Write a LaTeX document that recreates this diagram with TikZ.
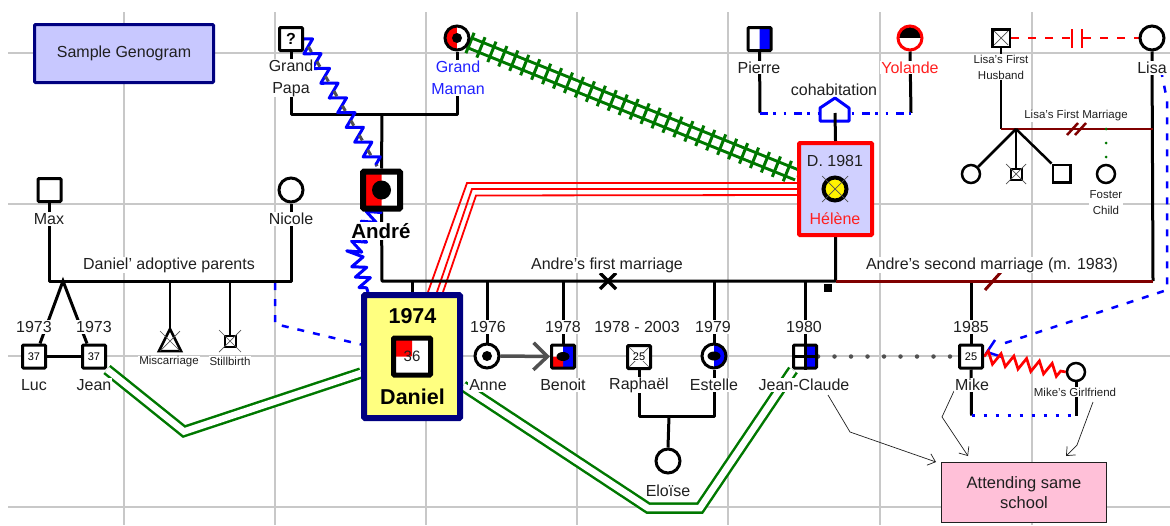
\documentclass[tikz,border=0pt]{standalone}
\usepackage{fontspec}
\setmainfont{Liberation Sans}
\usetikzlibrary{arrows.meta,decorations.pathmorphing,decorations.pathreplacing,shapes.geometric,calc}
\pgfdeclarelayer{bg}
\pgfsetlayers{bg,main}
\definecolor{ink}{HTML}{202020}
\definecolor{navybox}{HTML}{000080}
\definecolor{lavbox}{HTML}{C8C8FF}
\definecolor{lavred}{HTML}{D0D0FF}
\definecolor{yelbox}{HTML}{FFFF80}
\definecolor{pinkbox}{HTML}{FFC0D8}
\definecolor{gridc}{HTML}{C8C8C8}
\definecolor{gr}{HTML}{007800}
\definecolor{maroon}{HTML}{800000}
\definecolor{greyl}{HTML}{505050}
\definecolor{lblue}{HTML}{2020FF}
\definecolor{lred}{HTML}{FF2020}
\newcommand{\fsN}{\fontsize{16}{22}\selectfont}
\newcommand{\fsS}{\fontsize{11.5}{16}\selectfont}
\newcommand{\fsB}{\fontsize{21.5}{24}\selectfont\bfseries}
\newcommand{\deadx}[3][gray]{\draw[line width=.7pt,#1] ([shift={(-#3pt,-#3pt)}]#2.center) -- ([shift={(#3pt,#3pt)}]#2.center) ([shift={(-#3pt,#3pt)}]#2.center) -- ([shift={(#3pt,-#3pt)}]#2.center);}
\tikzset{
  lab/.style={fill=white,inner sep=1pt,font=\fsN,text=ink,align=center},
  slab/.style={lab,font=\fsS},
  sq/.style={draw=black,fill=white,line width=3pt,rounded corners=1pt,minimum size=23pt,inner sep=0pt,font=\fontsize{11}{12}\selectfont},
  circ/.style={circle,draw=black,fill=white,line width=3pt,minimum size=24pt,inner sep=0pt},
  scirc/.style={circle,draw=black,fill=white,line width=2.5pt,minimum size=18pt,inner sep=0pt},
  ssq/.style={draw=black,fill=white,line width=2.5pt,minimum size=17.5pt,inner sep=0pt},
  rel/.style={draw=black,line width=3pt},
  relthin/.style={draw=black,line width=2.5pt},
  wine/.style={draw=maroon,line width=2.5pt},
  greendouble/.style={draw=gr,line width=2.5pt,double=white,double distance=6.5pt},
  redline/.style={draw=red,line width=1.8pt},
  bluedash/.style={draw=blue,line width=2.5pt,dash pattern=on 7pt off 9pt},
  note/.style={draw=ink,line width=.7pt,-{Straight Barb[length=7pt,width=12pt]}},
  halfblue/.style={path picture={\fill[blue] (path picture bounding box.north) rectangle (path picture bounding box.south east);}},
  halfredL/.style={path picture={\fill[red] (path picture bounding box.north) rectangle (path picture bounding box.south west);}},
  tophalf/.style={path picture={\fill[black] (path picture bounding box.west) rectangle (path picture bounding box.north east);}}
}
\begin{document}
\begin{tikzpicture}[x=1pt,y=-1pt]
\useasboundingbox (0,0) rectangle (1170,525);
% -------- background grid
\begin{pgfonlayer}{bg}
\fill[white] (0,0) rectangle (1170,525);
\foreach \gx in {124,275,426,577,728,880,1032} \draw[gridc,line width=1.2pt] (\gx,12) -- (\gx,525);
\foreach \gy in {53,204,356,507} \draw[gridc,line width=1.2pt] (8,\gy) -- (1170,\gy);
\end{pgfonlayer}

% -------- boxes
\node[draw=navybox,fill=lavbox,line width=3pt,rounded corners=1pt,minimum width=179pt,minimum height=58pt,font=\fsN,text=ink] (title) at (124,53.5) {Sample Genogram};
\node[draw=navybox,fill=yelbox,line width=6pt,rounded corners=1pt,minimum width=96pt,minimum height=123pt] (danbox) at (412,356.5) {};
\node[draw=red,fill=lavred,line width=4pt,rounded corners=1pt,minimum width=73pt,minimum height=92pt] (helbox) at (835.5,189) {};
\node[draw=ink,fill=pinkbox,line width=1pt,minimum width=165pt,minimum height=60pt,align=center,text=ink,font=\fontsize{16.5}{20}\selectfont] (school) at (1024,492.5) {Attending same\\school};

% -------- house (cohabitation)
\coordinate (house) at (835,113);
\draw[draw=blue,fill=white,line width=3pt,line join=round] (820,121) -- (820,108) -- (835,98) -- (849,108) -- (849,121) -- cycle;

% -------- persons
\node[sq,font=\fontsize{16}{18}\selectfont\bfseries] (papa) at (291,39) {?};
\node[circ,halfredL] (maman) at (457,38) {};
\fill (maman.center) circle (5);
\node[sq,halfblue] (pierre) at (759.5,39) {};
\node[circ,draw=red,tophalf] (yolande) at (910,38) {};
\node[ssq] (husband) at (1001,38) {};
\deadx[greyl]{husband}{7}
\node[circ] (lisa) at (1152,38) {};
\node[sq] (max) at (49.5,190) {};
\node[circ] (nicole) at (291,190) {};
\node[draw=black,fill=white,line width=6pt,rounded corners=1pt,minimum size=37pt,inner sep=0pt,path picture={\fill[red] (path picture bounding box.north) rectangle (path picture bounding box.south west);}] (andre) at (381.5,190) {};
\fill (andre.center) circle (9.5);
\node[circ,fill=yellow,line width=4pt,minimum size=23pt] (helene) at (835,189) {};
\deadx[greyl]{helene}{13}
\node[sq] (luc) at (34,356.5) {37};
\node[sq] (jean) at (94,356.5) {37};
\draw[draw=black,fill=white,line width=2.5pt,line join=miter] (170,329) -- (181,351) -- (159,351) -- cycle;
\coordinate (misc) at (170,329);
\deadx[greyl]{misc}{0}
\draw[line width=.7pt,greyl] (160,331) -- (180,351) (180,331) -- (160,351);
\node[draw=black,fill=white,line width=2pt,minimum size=11pt,inner sep=0pt] (still) at (230,341) {};
\deadx[greyl]{still}{11}
\node[circ] (anne) at (487,356) {};
\fill (anne.center) circle (5);
\node[sq,path picture={\fill[blue] (path picture bounding box.north) rectangle (path picture bounding box.south east);\fill[red] (path picture bounding box.center) rectangle (path picture bounding box.south west);}] (benoit) at (563,356.5) {};
\fill (benoit.center) ellipse (6.5 and 4.5);
\node[sq] (raphael) at (639,357) {};
\draw[line width=.7pt,greyl] ([shift={(-10pt,-10pt)}]raphael.center) -- ([shift={(10pt,10pt)}]raphael.center) ([shift={(-10pt,10pt)}]raphael.center) -- ([shift={(10pt,-10pt)}]raphael.center);
\node[font=\fontsize{11}{12}\selectfont,fill=white,inner sep=.5pt] (raphnum) at (raphael.center) {25};
\node[circ,halfblue] (estelle) at (714,356) {};
\fill (estelle.center) ellipse (6.5 and 4.5);
\node[circ] (eloise) at (668,461) {};
\node[sq,halfblue] (jc) at (805,356.5) {};
\draw[line width=3pt] (jc.north) -- (jc.south) (jc.west) -- (jc.east);
\node[sq] (mike) at (971,356.5) {25};
\node[scirc] (girl) at (1076,372) {};
\node[scirc] (hc1) at (971,174) {};
\node[draw=black,fill=white,line width=2pt,minimum size=11pt,inner sep=0pt] (hc2) at (1016,174) {};
\deadx[greyl]{hc2}{10}
\node[ssq] (hc3) at (1061.5,173.5) {};
\node[scirc] (foster) at (1106,174) {};
\node[fill=black,minimum size=8pt,inner sep=0pt] (smallsq) at (828,288) {};

% inner of Daniel
\node[font=\fsB,text=black,inner sep=0pt] (y1974) at (412.5,316) {1974};
\node[draw=black,fill=white,line width=5pt,rounded corners=1pt,minimum size=37pt,inner sep=0pt,font=\fontsize{15}{16}\selectfont,text=ink,path picture={\fill[red] (path picture bounding box.center) rectangle (path picture bounding box.north west);}] (daniel) at (412,356.5) {36};
\node[font=\fsB,text=black,inner sep=0pt] (danlab) at (412.5,397) {Daniel};
% inner of Helene
\node[font=\fsN,text=ink,inner sep=0pt] (helyear) at (835,161) {D. 1981};
\node[font=\fsN,text=lred,inner sep=0pt] (hellab) at (835,219) {Hélène};

% -------- labels
\node[lab] (lpapa) at (291,78) {Grand\\Papa};
\node[lab,text=lblue] (lmaman) at (458,78) {Grand\\Maman};
\node[lab] (lpierre) at (759,67.5) {Pierre};
\node[lab,text=lred] (lyol) at (910,67.5) {Yolande};
\node[lab] (lcoh) at (834,89.5) {cohabitation};
\node[slab] (lhus) at (1001,67) {Lisa's First\\Husband};
\node[lab] (llisa) at (1152,68) {Lisa};
\node[slab] (llfm) at (1076,116) {Lisa's First Marriage};
\node[slab] (lfos) at (1106,203) {Foster\\Child};
\node[lab] (lmax) at (49,219) {Max};
\node[lab] (lnic) at (291,219) {Nicole};
\node[font=\fontsize{20.5}{22}\selectfont\bfseries,fill=white,inner sep=1pt,text=black] (land) at (381,231) {André};
\node[lab] (ladop) at (169,265) {Daniel' adoptive parents};
\node[lab] (lfirst) at (607,265) {Andre's first marriage};
\node[lab] (lsecond) at (992,265) {Andre's second marriage (m. 1983)};
\node[lab] (y1) at (34,327) {1973};
\node[lab] (y2) at (94,327) {1973};
\node[lab] (y3) at (488,327) {1976};
\node[lab] (y4) at (563,327) {1978};
\node[lab] (y5) at (637,327) {1978 - 2003};
\node[lab] (y6) at (713,327) {1979};
\node[lab] (y7) at (804,327) {1980};
\node[lab] (y8) at (971,327) {1985};
\node[lab] (lluc) at (34,385) {Luc};
\node[lab] (ljean) at (94,385) {Jean};
\node[slab] (lmisc) at (169,362) {Miscarriage};
\node[slab] (lstill) at (230,361) {Stillbirth};
\node[lab] (lanne) at (488,385) {Anne};
\node[lab] (lben) at (563,385) {Benoit};
\node[lab] (lrap) at (639,385) {Raphaël};
\node[lab] (lest) at (714,385) {Estelle};
\node[lab] (ljc) at (804,385) {Jean-Claude};
\node[lab] (lmike) at (972,385) {Mike};
\node[slab] (lgirl) at (1075,392) {Mike's Girlfriend};
\node[lab] (lelo) at (668,491) {Eloïse};

% -------- connectors on the background layer
\begin{pgfonlayer}{bg}
\coordinate (mar) at (382,281);
\coordinate (gp) at (382,114);
% grandparents
\draw[rel,line join=round] (papa.south) -- (papa.south |- gp) -- (maman.south |- gp) -- (maman.south);
\draw[rel] (gp) -- (andre.north);
% Max and Nicole
\draw[rel,line join=round] (max.south) -- (max.south |- mar) -- (nicole.south |- mar) -- (nicole.south);
\coordinate (twin) at (63,281);
\draw[rel] ([xshift=6pt]luc.north) -- (twin) -- ([xshift=-7pt]jean.north);
\draw[rel] (luc) -- (jean);
\draw[relthin] (170,281) -- (misc);
\draw[relthin] (still.north |- mar) -- (still.north);
% red triple
\draw[redline] ([xshift=16pt]danbox.north) -- (467,183) -- ([yshift=6pt]helbox.west);
\draw[redline] ([xshift=25pt]danbox.north) -- (472,189) -- (helbox.west);
\draw[redline] ([xshift=31pt]danbox.north) -- (476,195.5) -- ([yshift=-6pt]helbox.west);
% Andre's first marriage
\draw[rel,line join=round] (andre.south) -- (mar) -- (helbox.south |- mar) -- (helbox.south);
\draw[rel] (danbox.north |- mar) -- (danbox.north);
\draw[rel] (anne.north |- mar) -- (anne.north);
\draw[rel] (benoit.north |- mar) -- (benoit.north);
\draw[rel] (estelle.north |- mar) -- (estelle.north);
\draw[rel] (jc.north |- mar) -- (jc.north);
\coordinate (crossm) at (608,281);
\draw[line width=3.5pt] ([shift={(-8pt,-8pt)}]crossm) -- ([shift={(8pt,8pt)}]crossm) ([shift={(-8pt,8pt)}]crossm) -- ([shift={(8pt,-8pt)}]crossm);
% Raphael and Estelle
\coordinate (re) at (669,416);
\draw[rel,line join=round] (raphael.south) -- (raphael.south |- re) -- (estelle.south |- re) -- (estelle.south);
\draw[rel] (re) -- (eloise.north);
% Andre's second marriage
\draw[rel] (mike.north |- mar) -- (mike.north);
\draw[rel] (lisa.south) -- (1153,281);
\draw[draw=maroon,line width=3pt] (helbox.south |- mar) -- (1153,281);
\coordinate (slashm) at (993,281);
\draw[draw=maroon,line width=3pt] ([shift={(-8pt,-9pt)}]slashm) -- ([shift={(8pt,9pt)}]slashm);
% Lisa's first marriage
\coordinate (lm) at (1001,129);
\draw[relthin] (husband.south) -- (lm);
\draw[wine] (lm) -- (1153,129);
\coordinate (lma) at (1067,135);
\draw[wine] (lma) -- ++(11,-12) ++(-3,12) -- ++(11,-12);
\coordinate (fork) at (1016,129);
\draw[relthin] (fork) -- (hc1.north east);
\draw[relthin] (fork) -- (hc2.north);
\draw[relthin] (fork) -- (hc3.north west);
\draw[draw=gr,line width=3pt,line cap=round,dash pattern=on 0pt off 14pt] (foster.north |- fork) -- (foster.north);
% Lisa's husband separated
\draw[draw=red,line width=2.2pt,dash pattern=on 8pt off 9pt] (husband.east) -- (1072,38);
\draw[draw=red,line width=2.2pt,dash pattern=on 8pt off 9pt] (1083,38) -- (lisa.west);
\draw[draw=red,line width=2.5pt] (1072,29) -- (1072,48) (1082,29) -- (1082,48);
% cohabitation
\draw[rel] (pierre.south) -- (760,113);
\draw[rel] (yolande.south) -- (911,113);
\draw[draw=blue,line width=3pt,dash pattern=on 8pt off 5pt on 2.5pt off 8pt on 2.5pt off 8pt] (760,113.5) -- (911,113.5);
% Mike and girlfriend
\coordinate (mg) at (971.5,415.5);
\draw[rel] (mike.south) -- (mg);
\draw[rel] (girl.south) -- (1076,415.5);
\draw[draw=blue,line width=2.5pt,dash pattern=on 3pt off 9pt] (mg) -- (1076,415.5);
% green double lines
\draw[greendouble,line join=miter] (jean.south east) -- (184,431.5) -- ([yshift=-16.5pt]danbox.west);
\draw[greendouble,line join=miter] (463,386) -- (648,508) -- (700,508) -- (793,370);
% cut-offs
\draw[draw=greyl,line width=4.5pt,line cap=round,dash pattern=on 0pt off 16.5pt] (jc.east) -- (mike.west);
% railroad
\draw[draw=gr,line width=3pt,double=white,double distance=7.5pt] (470,43) -- ([yshift=14pt]helbox.west);
\draw[draw=gr,line width=3pt,decorate,decoration={ticks,segment length=11.8pt,amplitude=11pt}] (470,43) -- ([yshift=14pt]helbox.west);
% blue springs
\draw[draw=blue,line width=3pt,line join=round,decorate,decoration={zigzag,segment length=17pt,amplitude=7.5pt}] (papa.east) -- (377,166);
\draw[draw=greyl,line width=3pt,dash pattern=on 6pt off 11pt,dash phase=-9pt] (papa.east) -- (377,166);
\draw[draw=blue,line width=3pt,line join=round,decorate,decoration={zigzag,segment length=11pt,amplitude=7pt}] (376,207) -- (354,252) -- (368,292);
% blue dashed
\draw[bluedash] (275,283) -- (275,324) -- ([yshift=12pt]danbox.west);
\draw[bluedash] (1161,70) -- (1167,100) -- (1167,290) -- (999,345);
\draw[draw=blue,line width=2.5pt] (995,340) -- (987,352) -- (1002,357);
% red spring
\draw[draw=red,line width=2.7pt,decorate,decoration={zigzag,segment length=13pt,amplitude=6pt}] (mike.east) -- (girl.west);
% arrow Anne to Benoit
\draw[draw=greyl,line width=3.5pt,-{Straight Barb[length=14pt,width=27pt]}] (anne.east) -- (benoit.west);
% notes
\draw[note] (828,395) -- (850,432) -- (936,462);
\draw[note] (954,391) -- (942,417) -- (968,456);
\draw[note] (1093,402) -- (1077,445) -- (1066,456);
\end{pgfonlayer}
% line over the house
\draw[rel] (house) -- (helbox.north);
\end{tikzpicture}
\end{document}
